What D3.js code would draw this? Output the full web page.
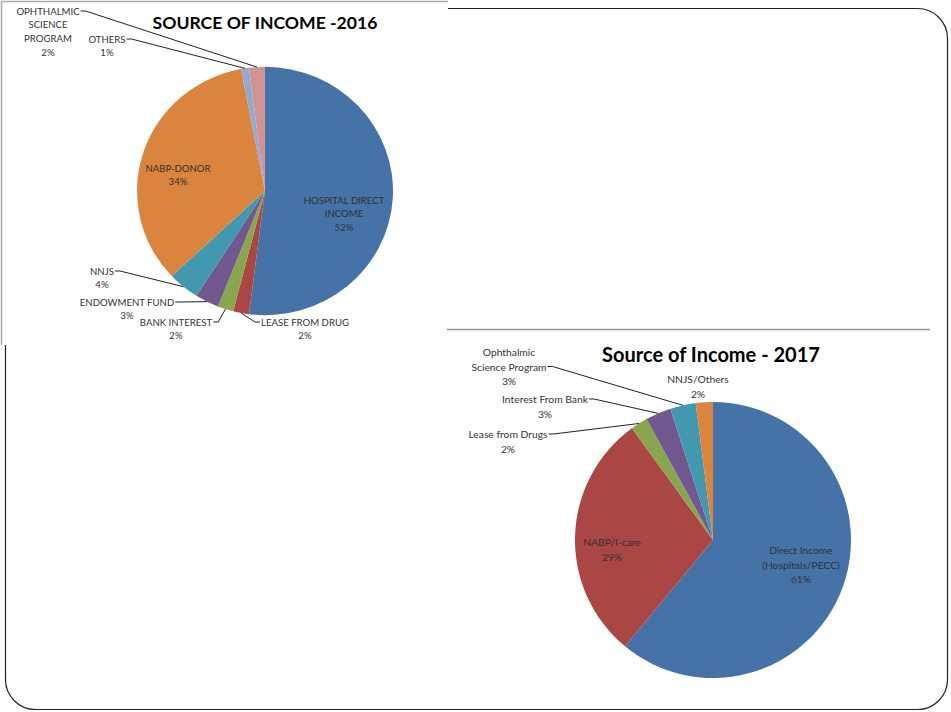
<!DOCTYPE html>
<html>
<head>
<meta charset="utf-8">
<script src="https://cdn.jsdelivr.net/npm/d3@7"></script>
<style>
  body { margin: 0; background: #fff; }
  svg { display: block; }
  text { font-family: Lato, "Open Sans", sans-serif; }
</style>
</head>
<body>
<svg id="chart" width="951" height="712"></svg>
<script>
// data
const cats2016 = ["HOSPITAL DIRECT\nINCOME", "LEASE FROM DRUG", "BANK INTEREST", "ENDOWMENT FUND", "NNJS", "NABP-DONOR", "OTHERS", "OPHTHALMIC\nSCIENCE\nPROGRAM"];
const vals2016 = [52, 2, 2, 3, 4, 34, 1, 2];

const cats2017 = ["Direct Income\n(Hospitals/PECC)", "NABP/I-care", "Lease from Drugs", "Interest From Bank", "Ophthalmic\nScience Program", "NNJS/Others"];
const vals2017 = [61, 29, 2, 3, 3, 2];

const svg = d3.select("#chart");

// slide frame
svg.append("rect")
  .attr("x", 5.5).attr("y", 8.5)
  .attr("width", 942).attr("height", 701)
  .attr("rx", 30).attr("ry", 30)
  .attr("fill", "#fff")
  .attr("stroke", "#222")
  .attr("stroke-width", 1.2);

// the two pasted chart pictures
svg.append("rect")
  .attr("x", 0).attr("y", 0).attr("width", 448).attr("height", 345)
  .attr("fill", "#fff");
svg.append("path")
  .attr("d", "M1.5,345 V1.5 H448")
  .attr("fill", "none").attr("stroke", "#aaa").attr("stroke-width", 1.5);

svg.append("rect")
  .attr("x", 447).attr("y", 329).attr("width", 483).attr("height", 360)
  .attr("fill", "#fff");
svg.append("line")
  .attr("x1", 447).attr("x2", 930).attr("y1", 329.5).attr("y2", 329.5)
  .attr("stroke", "#999").attr("stroke-width", 1.5);

const palette = ["#4572a7", "#aa4643", "#89a54e", "#71588f", "#4198af", "#db843d", "#93a9cf", "#d19392"];

function drawPie(opt) {
  const color = d3.scaleOrdinal().domain(opt.cats).range(palette);
  const data = opt.cats.map((c, i) => ({ name: c, value: opt.vals[i] }));
  const arcs = d3.pie().sort(null).value(d => d.value)(data);
  const arc = d3.arc().innerRadius(0).outerRadius(opt.r);

  const g = svg.append("g");

  g.append("text")
    .attr("x", opt.titleX).attr("y", opt.titleY)
    .attr("text-anchor", "middle")
    .attr("dominant-baseline", "central")
    .attr("font-size", opt.titleSize)
    .attr("font-weight", "bold")
    .attr("fill", "#000")
    .text(opt.title);

  g.append("g")
    .attr("transform", `translate(${opt.cx},${opt.cy}) scale(1,${opt.sy})`)
    .selectAll("path")
    .data(arcs)
    .join("path")
    .attr("d", arc)
    .attr("fill", d => color(d.data.name));

  arcs.forEach((d, i) => {
    const L = opt.layout[i];
    const lines = d.data.name.split("\n").concat([d.data.value + "%"]);
    const t = g.append("text")
      .attr("text-anchor", "middle")
      .attr("font-size", opt.fontSize)
      .attr("fill", "#333");
    lines.forEach((s, k) => {
      t.append("tspan")
        .attr("x", L.x)
        .attr("y", L.y + k * opt.lineH)
        .attr("dominant-baseline", "central")
        .text(s);
    });
    if (L.side) {
      const w = t.selectAll("tspan").nodes()[L.line || 0].getComputedTextLength();
      const sgn = L.side === "r" ? 1 : -1;
      const y0 = L.y + (L.line || 0) * opt.lineH;
      const x0 = L.x + sgn * (w / 2 + 1);
      const a = (d.startAngle + d.endAngle) / 2;
      const ex = opt.cx + opt.r * Math.sin(a);
      const ey = opt.cy - opt.r * opt.sy * Math.cos(a);
      g.append("polyline")
        .attr("points", [[x0, y0], [x0 + sgn * 5, y0], [ex, ey]].map(p => p.join(",")).join(" "))
        .attr("fill", "none")
        .attr("stroke", "#222")
        .attr("stroke-width", 1);
    }
  });
}

drawPie({
  cats: cats2016, vals: vals2016,
  cx: 265, cy: 191, r: 128, sy: 0.97,
  title: "SOURCE OF INCOME -2016", titleX: 265, titleY: 22, titleSize: 17.6,
  fontSize: 9.6, lineH: 13.7,
  layout: [
    { x: 344, y: 200 },
    { x: 305, y: 322, line: 0, side: "l" },
    { x: 176, y: 322, line: 0, side: "r" },
    { x: 127, y: 302, line: 0, side: "r" },
    { x: 102, y: 271, line: 0, side: "r" },
    { x: 178, y: 168 },
    { x: 107, y: 39, line: 0, side: "r" },
    { x: 48, y: 11, line: 0, side: "r" }
  ]
});

drawPie({
  cats: cats2017, vals: vals2017,
  cx: 713, cy: 540, r: 138, sy: 1,
  title: "Source of Income - 2017", titleX: 711, titleY: 354, titleSize: 20,
  fontSize: 10.3, lineH: 14.5,
  layout: [
    { x: 801, y: 550 },
    { x: 612, y: 542 },
    { x: 508, y: 434, line: 0, side: "r" },
    { x: 545, y: 399, line: 0, side: "r" },
    { x: 509, y: 352, line: 1, side: "r" },
    { x: 698, y: 379 }
  ]
});
</script>
</body>
</html>
